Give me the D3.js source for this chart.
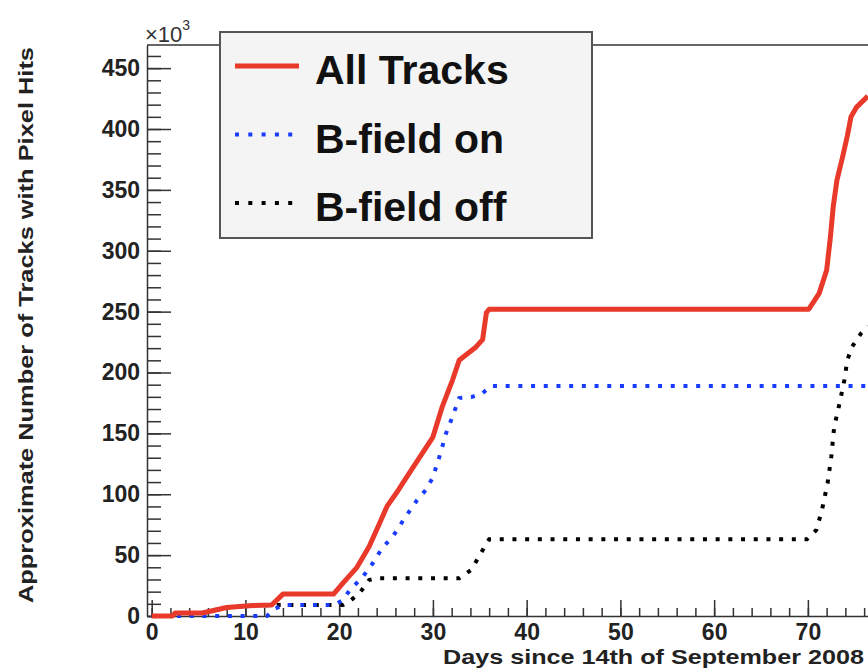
<!DOCTYPE html>
<html>
<head>
<meta charset="utf-8">
<script src="https://cdn.jsdelivr.net/npm/d3@7"></script>
<style>
  body { margin: 0; background: #fff; }
  svg { display: block; }
</style>
</head>
<body>
<div id="chart"></div>
<script>
// days since 14 Sep 2008 vs. tracks (x1000)
const allTracks = [[0,0],[2.2,0],[2.5,2.5],[5.4,2.5],[8,7],[10.4,8.5],[12.8,9],[14,18],[19.4,18],[20.4,27],[21.9,40],[23.2,57],[24.3,76],[25.1,90],[26.1,101],[27.2,114],[28.3,127],[30,147],[31,172],[32.1,194],[32.8,210],[34.6,221],[35.3,227],[35.7,249],[36,252],[70.1,252],[71.2,265],[72,284],[72.4,311],[72.7,336],[73.1,358],[73.7,377],[74.2,394],[74.6,410],[75.2,418],[76.4,427]];
const bFieldOn = [[0,0],[12.3,0],[12.9,5],[14,9],[19.5,9],[20.4,13],[21.1,21],[22.5,32],[23.6,43.5],[24.6,56],[25.7,65],[27,80.5],[28.3,95],[29.3,104],[30,114],[30.7,131],[31.4,150],[32.1,164],[32.8,179],[34.2,180],[35.3,183],[36.2,189],[77,189]];
const bFieldOff = [[0,0],[2.2,0],[2.5,2.5],[5.4,2.5],[8,7],[10.4,8.5],[12.8,9],[20.4,9],[21.1,12],[22.2,19],[23.2,29.6],[24,31],[32.8,31],[34.1,38],[35.3,54],[36,63],[69.9,63],[70.9,70.6],[71.5,87],[72.1,109],[72.5,131],[72.8,155],[73.3,172],[73.9,194],[74.2,210],[74.7,221],[75.7,232.5],[76.4,238]];

const seriesNames = ["All Tracks", "B-field on", "B-field off"];
const xTicks = [0, 10, 20, 30, 40, 50, 60, 70];
const yTicks = [0, 50, 100, 150, 200, 250, 300, 350, 400, 450];

const width = 868, height = 670;
const svg = d3.select("#chart").append("svg").attr("width", width).attr("height", height);

const x = d3.scaleLinear().domain([-0.5, 81]).range([147, 911]);
const y = d3.scaleLinear().domain([0, 469]).range([616, 45]);

const font = "'Liberation Sans', Arial, Helvetica, sans-serif";

// frame top line
svg.append("line")
  .attr("x1", x.range()[0]).attr("x2", x.range()[1])
  .attr("y1", y.range()[1]).attr("y2", y.range()[1])
  .attr("stroke", "#333").attr("stroke-width", 1.5);

// minor ticks
svg.append("g")
  .attr("transform", `translate(${x.range()[0]},0)`)
  .call(d3.axisLeft(y).tickValues(d3.range(0, 470, 10)).tickSize(-14).tickFormat(""))
  .call(g => g.select(".domain").remove())
  .call(g => g.selectAll("line").attr("stroke", "#333").attr("stroke-width", 1.5));

svg.append("g")
  .attr("transform", `translate(0,${y.range()[0]})`)
  .call(d3.axisBottom(x).tickValues(d3.range(0, 82, 2)).tickSize(-8).tickFormat(""))
  .call(g => g.select(".domain").remove())
  .call(g => g.selectAll("line").attr("stroke", "#333").attr("stroke-width", 1.5));

// major ticks + labels
svg.append("g")
  .attr("transform", `translate(${x.range()[0]},0)`)
  .call(d3.axisLeft(y).tickValues(yTicks).tickSize(-24).tickSizeOuter(0).tickPadding(7))
  .call(g => g.select(".domain").attr("stroke", "#333").attr("stroke-width", 1.5))
  .call(g => g.selectAll("line").attr("stroke", "#333").attr("stroke-width", 1.5))
  .call(g => g.selectAll("text")
    .attr("font-family", font).attr("font-weight", "bold").attr("font-size", 23).attr("fill", "#222"));

svg.append("g")
  .attr("transform", `translate(0,${y.range()[0]})`)
  .call(d3.axisBottom(x).tickValues(xTicks).tickSize(-16).tickSizeOuter(0).tickPadding(8))
  .call(g => g.select(".domain").attr("stroke", "#333").attr("stroke-width", 1.5))
  .call(g => g.selectAll("line").attr("stroke", "#333").attr("stroke-width", 1.5))
  .call(g => g.selectAll("text")
    .attr("font-family", font).attr("font-weight", "bold").attr("font-size", 23).attr("fill", "#222"));

// axis titles
svg.append("text")
  .attr("x", 443).attr("y", 664)
  .attr("font-family", font).attr("font-weight", "bold").attr("font-size", 20)
  .attr("textLength", 421).attr("lengthAdjust", "spacingAndGlyphs")
  .attr("fill", "#222")
  .text("Days since 14th of September 2008");

svg.append("text")
  .attr("transform", "translate(33,325) rotate(-90)")
  .attr("text-anchor", "middle")
  .attr("font-family", font).attr("font-weight", "bold").attr("font-size", 21)
  .attr("textLength", 556).attr("lengthAdjust", "spacingAndGlyphs")
  .attr("fill", "#222")
  .text("Approximate Number of Tracks with Pixel Hits");

// x10^3 multiplier
const mult = svg.append("text")
  .attr("x", 145).attr("y", 42)
  .attr("font-family", font).attr("font-size", 22).attr("fill", "#333");
mult.append("tspan").text("\u00d710");
mult.append("tspan").attr("dy", -12).attr("font-size", 14).text("3");

// curves
const line = d3.line().x(d => x(d[0])).y(d => y(d[1]));

svg.append("path").datum(bFieldOff)
  .attr("d", line).attr("fill", "none")
  .attr("stroke", "#000").attr("stroke-width", 4).attr("stroke-dasharray", "4,8.7");

svg.append("path").datum(bFieldOn)
  .attr("d", line).attr("fill", "none")
  .attr("stroke", "#1a3cff").attr("stroke-width", 4).attr("stroke-dasharray", "4,8.7");

svg.append("path").datum(allTracks)
  .attr("d", line).attr("fill", "none")
  .attr("stroke", "#e8392a").attr("stroke-width", 5).attr("stroke-linejoin", "round");

// legend
const legend = svg.append("g");
legend.append("rect")
  .attr("x", 220).attr("y", 32).attr("width", 372).attr("height", 206)
  .attr("fill", "#f4f4f4").attr("stroke", "#555").attr("stroke-width", 2);

const legendStyles = [
  {color: "#e8392a", dash: null, w: 5, x2: 299},
  {color: "#1a3cff", dash: "4,9.3", w: 4, x2: 295},
  {color: "#000", dash: "4,9.3", w: 4, x2: 295}
];

seriesNames.forEach((name, i) => {
  const ly = 66 + i * 68.5;
  const s = legendStyles[i];
  legend.append("line")
    .attr("x1", 235).attr("x2", s.x2).attr("y1", ly).attr("y2", ly)
    .attr("stroke", s.color).attr("stroke-width", s.w)
    .attr("stroke-dasharray", s.dash);
  legend.append("text")
    .attr("x", 315).attr("y", ly + 18)
    .attr("font-family", font).attr("font-weight", "bold").attr("font-size", 41)
    .attr("fill", "#111")
    .text(name);
});
</script>
</body>
</html>
